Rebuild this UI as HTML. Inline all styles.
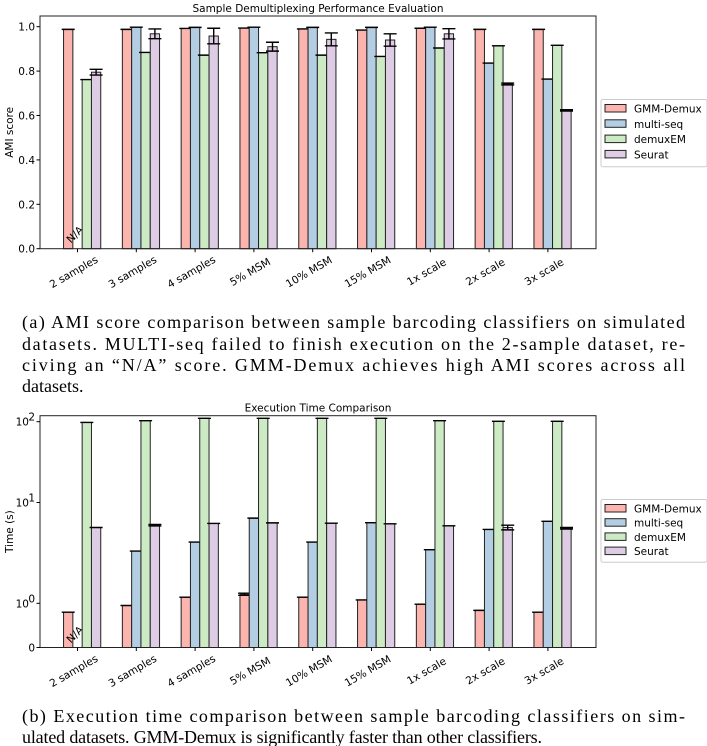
<!DOCTYPE html>
<html><head><meta charset="utf-8">
<style>
html,body{margin:0;padding:0;background:#fff;}
svg{display:block;}
.tk{font-family:"DejaVu Sans","Liberation Sans",sans-serif;font-size:10.5px;fill:#000;}
.cap{font-family:"Liberation Serif",serif;font-size:18px;fill:#000;}
</style></head>
<body>
<svg id="fig" width="707" height="746" viewBox="0 0 707 746" xmlns="http://www.w3.org/2000/svg">
  <g id="chartA"></g>
  <g id="chartB"></g>
  <text class="cap" x="22" y="328" textLength="663" lengthAdjust="spacing">(a) AMI score comparison between sample barcoding classifiers on simulated</text>
  <text class="cap" x="22" y="350" textLength="663" lengthAdjust="spacing">datasets.  MULTI-seq failed to finish execution on the 2-sample dataset, re-</text>
  <text class="cap" x="22" y="371" textLength="663" lengthAdjust="spacing">civing an “N/A” score.  GMM-Demux achieves high AMI scores across all</text>
  <text class="cap" x="22" y="392">datasets.</text>
  <text class="cap" x="22" y="722" textLength="663" lengthAdjust="spacing">(b) Execution time comparison between sample barcoding classifiers on sim-</text>
  <text class="cap" x="22" y="743" textLength="520" lengthAdjust="spacing">ulated datasets. GMM-Demux is significantly faster than other classifiers.</text>
</svg>
<script>
const categories = ["2 samples","3 samples","4 samples","5% MSM","10% MSM","15% MSM","1x scale","2x scale","3x scale"];
const seriesNames = ["GMM-Demux","multi-seq","demuxEM","Seurat"];
const colors = ["#fbb4ae","#b3cde3","#ccebc5","#decbe4"];
// AMI values
const amiGMM = [0.988,0.988,0.992,0.994,0.990,0.985,0.993,0.988,0.988];
const amiMulti = [null,0.998,0.997,0.998,0.997,0.997,0.998,0.836,0.764];
const amiDemux = [0.762,0.884,0.872,0.883,0.872,0.866,0.904,0.914,0.916];
const amiSeurat = [0.795,0.968,0.958,0.910,0.943,0.940,0.968,0.742,0.623];
const amiSeuratErr = [0.013,0.022,0.035,0.020,0.029,0.028,0.023,0.004,0.003];
const amiTicks = [0,0.2,0.4,0.6,0.8,1.0];
const amiTickLabels = ["0.0","0.2","0.4","0.6","0.8","1.0"];
// Time values (s)
const tGMM = [0.80,0.95,1.15,1.23,1.15,1.08,0.98,0.84,0.80];
const tGMMErr = [0,0,0,0.03,0,0,0,0,0];
const tMulti = [null,3.3,4.05,7.0,4.05,6.3,3.4,5.4,6.5];
const tDemux = [98,103,110,110,110,110,103,101,101];
const tSeurat = [5.65,5.96,6.2,6.28,6.24,6.14,5.87,5.65,5.56];
const tSeuratErr = [0,0.1,0,0,0,0,0,0.3,0.1];
const tTicks = [0,1,10,100];
const tTickLabels = ["0","10^0","10^1","10^2"];

const NS="http://www.w3.org/2000/svg";
function mk(tag,attrs,parent){const e=document.createElementNS(NS,tag);for(const k in attrs)e.setAttribute(k,attrs[k]);parent.appendChild(e);return e;}
const bw=9.3;
function xC(i){return 77.5+58.8*i;}

function drawChart(g,opt){
  const {top,bottom,left,right,yf,series,errs,ticks,tickLabels,title,ylabel,legendY,legendStep,naY,tickY}=opt;
  const t=mk('text',{x:(left+right)/2,y:top-4,'text-anchor':'middle',class:'tk','font-size':'12'},g);
  t.textContent=title;
  
  
  for(let s=0;s<4;s++){
    for(let i=0;i<categories.length;i++){
      const v=series[s][i];
      if(v===null){
        const na=mk('text',{x:0,y:0,class:'tk','font-size':'9.5','text-anchor':'middle',transform:`translate(${xC(i)+(s-1)*bw},${naY}) rotate(-45)`},g);
        na.textContent="N/A";
        
        
        continue;
      }
      const cx=xC(i)+(s-1)*bw;
      const y=yf(v);
      const r=mk('rect',{x:cx-bw/2,y:y,width:bw,height:bottom-y,fill:colors[s],stroke:'#222','stroke-width':1},g);
      
      
      const e=errs[s]?errs[s][i]:0;
      const y1=yf(v+e),y2=yf(Math.max(v-e,0.0001));
      const eb=mk('path',{d:`M${cx},${y1}V${y2}M${cx-6.5},${y1}H${cx+6.5}M${cx-6.5},${y2}H${cx+6.5}`,stroke:'#000','stroke-width':1.4,fill:'none'},g);
      
      
    }
  }
  const fr=mk('rect',{x:left,y:top,width:right-left,height:bottom-top,fill:'none',stroke:'#222','stroke-width':1},g);
  
  
  for(let k=0;k<ticks.length;k++){
    const y=yf(ticks[k]);
    mk('line',{x1:left-3.5,x2:left,y1:y,y2:y,stroke:'#000'},g);
    const lab=tickLabels[k];
    const tx=mk('text',{x:left-5,y:y+4,'text-anchor':'end',class:'tk'},g);
    if(lab.indexOf('^')>0){
      const p=lab.split('^');
      tx.setAttribute('x',left-11);
      tx.textContent=p[0];
      const sup=mk('text',{x:left-5,y:y-1,'text-anchor':'end',class:'tk','font-size':'7.5'},g);
      sup.textContent=p[1];
      
      
    } else tx.textContent=lab;
    
    
  }
  const yl=mk('text',{x:0,y:0,'text-anchor':'middle',class:'tk',transform:`translate(13,${(top+bottom)/2}) rotate(-90)`},g);
  yl.textContent=ylabel;
  
  
  for(let i=0;i<categories.length;i++){
    const x=xC(i);
    mk('line',{x1:x,x2:x,y1:bottom,y2:bottom+3.5,stroke:'#000'},g);
    const tx=mk('text',{x:0,y:0,'text-anchor':'middle',class:'tk',transform:`translate(${x-2},${tickY}) rotate(-30)`},g);
    tx.textContent=categories[i];
    
    
  }
  const lg=mk('g',{},g);
  
  
  mk('rect',{x:601,y:legendY-9,width:106,height:legendStep*4+6,fill:'#fff',stroke:'#ccc','stroke-width':1,rx:2},lg);
  for(let s=0;s<4;s++){
    const y=legendY+s*legendStep;
    const it=mk('g',{},lg);
    
    
    mk('rect',{x:605,y:y-4,width:21,height:7.5,fill:colors[s],stroke:'#222','stroke-width':1},it);
    const tx=mk('text',{x:634,y:y+4,class:'tk','font-size':'11'},it);
    tx.textContent=seriesNames[s];
  }
}

drawChart(document.getElementById('chartA'),{
  top:16,bottom:248.7,left:40,right:596,
  yf:v=>248.7-v*222,
  series:[amiGMM,amiMulti,amiDemux,amiSeurat],
  errs:[null,null,null,amiSeuratErr],
  ticks:amiTicks,tickLabels:amiTickLabels,
  title:"Sample Demultiplexing Performance Evaluation",ylabel:"AMI score",
  legendY:108.5,legendStep:15.3,naY:237,tickY:275
});
drawChart(document.getElementById('chartB'),{
  top:415.7,bottom:647.5,left:40,right:596,
  yf:v=>{ if(v<=1) return 647.5-v*44.2; if(v<=10) return 603.3-Math.log10(v)*100.8; return 502.5-(Math.log10(v)-1)*80.8; },
  series:[tGMM,tMulti,tDemux,tSeurat],
  errs:[tGMMErr,null,null,tSeuratErr],
  ticks:tTicks,tickLabels:tTickLabels,
  title:"Execution Time Comparison",ylabel:"Time (s)",
  legendY:508.5,legendStep:14.2,naY:637,tickY:674
});
</script>
</body></html>
